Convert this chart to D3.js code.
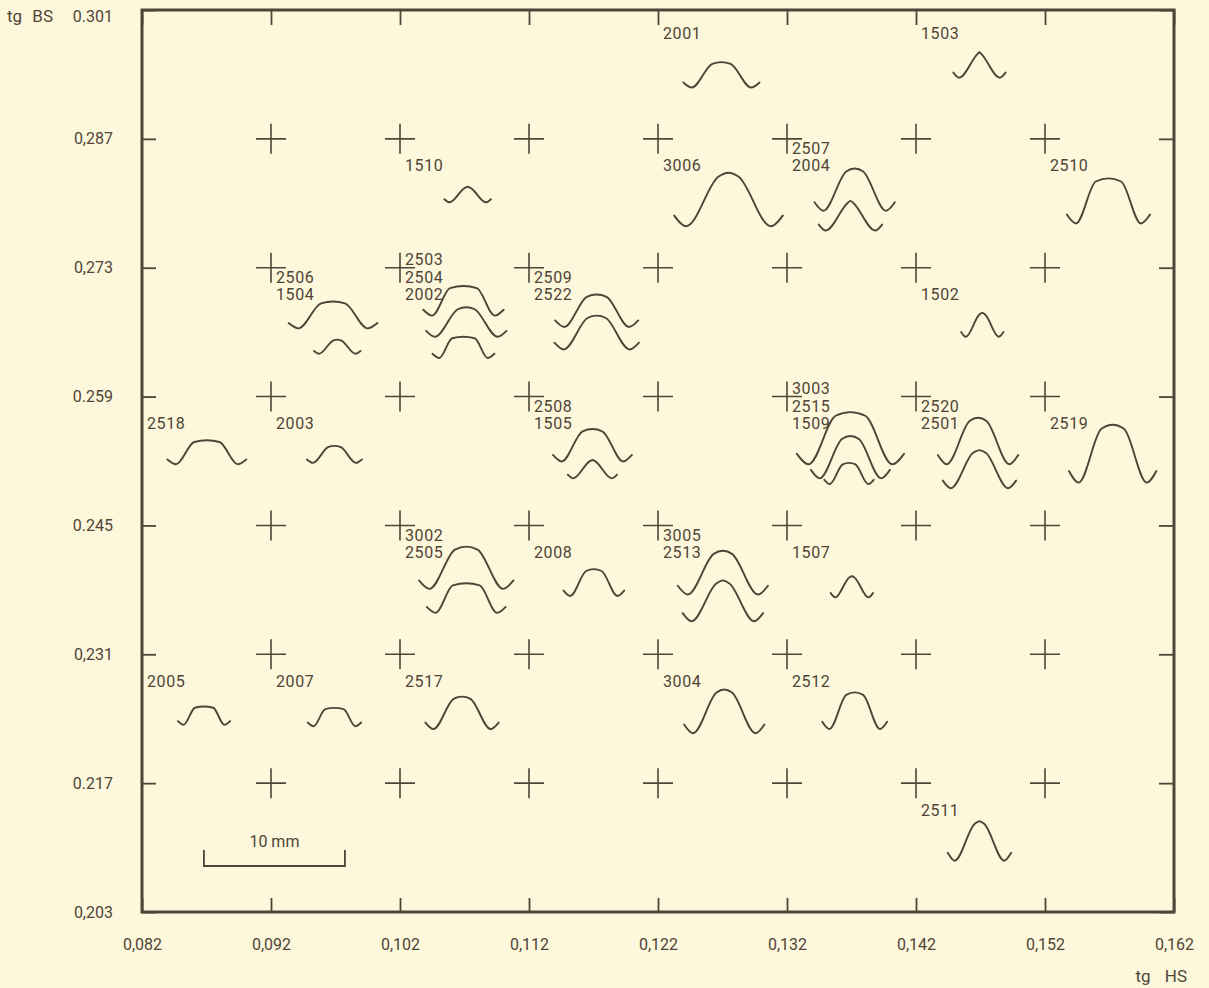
<!DOCTYPE html>
<html>
<head>
<meta charset="utf-8">
<script src="https://cdn.jsdelivr.net/npm/d3@7/dist/d3.min.js"></script>
<style>
  html, body { margin: 0; padding: 0; background: #fdf8dc; }
  svg { display: block; }
  text { font-family: Roboto, "DejaVu Sans", sans-serif; fill: #4f4437; }
</style>
</head>
<body>
<svg width="1209" height="988"></svg>
<script>
// specimens, listed in label order at each grid point
const specimens = ["2001", "1503", "1510", "3006", "2507", "2004", "2510",
  "2506", "1504", "2503", "2504", "2002", "2509", "2522", "1502",
  "2518", "2003", "2508", "1505", "3003", "2515", "1509", "2520", "2501", "2519",
  "3002", "2505", "2008", "3005", "2513", "1507",
  "2005", "2007", "2517", "3004", "2512", "2511"];
const tgHS = [0.122, 0.142, 0.102, 0.122, 0.132, 0.132, 0.152,
  0.092, 0.092, 0.102, 0.102, 0.102, 0.112, 0.112, 0.142,
  0.082, 0.092, 0.112, 0.112, 0.132, 0.132, 0.132, 0.142, 0.142, 0.152,
  0.102, 0.102, 0.112, 0.122, 0.122, 0.132,
  0.082, 0.092, 0.102, 0.122, 0.132, 0.142];
const tgBS = [0.301, 0.301, 0.287, 0.287, 0.287, 0.287, 0.287,
  0.273, 0.273, 0.273, 0.273, 0.273, 0.273, 0.273, 0.273,
  0.259, 0.259, 0.259, 0.259, 0.259, 0.259, 0.259, 0.259, 0.259, 0.259,
  0.245, 0.245, 0.245, 0.245, 0.245, 0.245,
  0.231, 0.231, 0.231, 0.231, 0.231, 0.217];

// profile outlines, in mm of the drawing (see the 10 mm bar)
const profWidth = [5.4, 3.7, 3.3, 7.7, 5.7, 4.5, 5.9,
  6.3, 3.3, 5.7, 5.7, 4.4, 5.9, 6.0, 3.0,
  5.6, 3.9, 5.6, 3.5, 7.6, 5.6, 3.5, 5.7, 5.2, 6.2,
  6.7, 5.6, 4.3, 6.4, 5.7, 3.0,
  3.7, 3.8, 5.2, 5.7, 4.6, 4.5];
const profHeight = [1.8, 1.8, 1.1, 3.8, 3.0, 2.1, 3.2,
  1.9, 1.0, 2.1, 2.1, 1.5, 2.3, 2.4, 1.7,
  1.7, 1.2, 2.3, 1.3, 3.7, 3.0, 1.5, 3.3, 2.7, 4.1,
  3.0, 2.1, 1.9, 3.1, 2.9, 1.5,
  1.3, 1.3, 2.3, 3.1, 2.6, 2.8];
const profTop = [1.3, 0.1, 0.4, 1.4, 1.2, 0.4, 1.8,
  1.7, 0.6, 1.9, 1.2, 1.6, 1.4, 1.3, 0.4,
  1.8, 0.9, 1.4, 0.4, 2.1, 1.2, 0.9, 1.2, 0.9, 1.6,
  1.6, 1.9, 1.1, 1.3, 0.9, 0.4,
  1.3, 1.3, 1.2, 1.1, 1.2, 0.7];
// where each outline sits, from its grid point (mm right, mm down)
const profDx = [4.5, 4.5, 4.8, 5.0, 4.8, 4.5, 4.5,
  4.4, 4.7, 4.5, 4.7, 4.5, 4.8, 4.8, 4.7,
  4.6, 4.5, 4.5, 4.5, 4.5, 4.5, 4.4, 4.4, 4.5, 4.8,
  4.7, 4.7, 4.6, 4.6, 4.6, 4.6,
  4.4, 4.5, 4.4, 4.7, 4.8, 4.5];
const profDy = [5.5, 4.8, 4.5, 6.2, 5.1, 6.5, 6.0,
  4.3, 6.1, 3.4, 4.9, 6.4, 4.2, 5.8, 4.9,
  4.8, 4.7, 4.6, 5.8, 4.8, 5.8, 6.2, 4.8, 6.5, 6.1,
  4.5, 6.2, 5.0, 4.9, 6.8, 5.1,
  5.0, 5.1, 5.3, 5.6, 5.3, 5.5];

const xTicks = [0.082, 0.092, 0.102, 0.112, 0.122, 0.132, 0.142, 0.152, 0.162];
const xTickLabels = ["0,082", "0,092", "0,102", "0,112", "0,122", "0,132", "0,142", "0,152", "0,162"];
const yTicks = [0.301, 0.287, 0.273, 0.259, 0.245, 0.231, 0.217, 0.203];
const yTickLabels = ["0.301", "0,287", "0,273", "0.259", "0.245", "0,231", "0.217", "0,203"];

// 10 mm bar, in chart units
const barStart = 0.0868, barLen = 0.01093, barBS = 0.208;

const ink = "#4f4437";
const svg = d3.select("svg");

const x = d3.scaleLinear([0.082, 0.162], [142, 1174]);
const y = d3.scaleLinear([0.203, 0.301], [912, 10]);
const mm = d3.scaleLinear([0, 10], [0, x(barStart + barLen) - x(barStart)]);

function styleAxis(g) {
  g.select(".domain").remove();
  g.attr("font-size", 16).attr("font-family", null);
  g.selectAll(".tick line").attr("stroke", ink).attr("stroke-width", 1.8);
  g.selectAll(".tick text").attr("fill", ink);
}

svg.append("g").attr("transform", `translate(0,${y(0.203)})`)
  .call(d3.axisBottom(x).tickValues(xTicks).tickSize(-14).tickPadding(27)
    .tickFormat((d, i) => xTickLabels[i]))
  .call(styleAxis);
svg.append("g").attr("transform", `translate(${x(0.082)},0)`)
  .call(d3.axisLeft(y).tickValues(yTicks).tickSize(-14).tickPadding(29)
    .tickFormat((d, i) => yTickLabels[i]))
  .call(styleAxis);
// top label sits just under the page edge
svg.select("g:nth-of-type(2) .tick text").attr("dy", "0.7em");
svg.append("g").attr("transform", `translate(0,${y(0.301)})`)
  .call(d3.axisTop(x).tickValues(xTicks).tickSize(-15).tickFormat(() => ""))
  .call(styleAxis);
svg.append("g").attr("transform", `translate(${x(0.162)},0)`)
  .call(d3.axisRight(y).tickValues(yTicks).tickSize(-15).tickFormat(() => ""))
  .call(styleAxis);

// frame
svg.append("rect")
  .attr("x", x(0.082)).attr("y", y(0.301))
  .attr("width", x(0.162) - x(0.082)).attr("height", y(0.203) - y(0.301))
  .attr("fill", "none").attr("stroke", ink).attr("stroke-width", 3);

// axis titles
const t1 = svg.append("text").attr("x", 7).attr("y", y(0.301) + 6).attr("dy", "0.35em")
  .attr("font-size", 17).text("tg");
t1.append("tspan").attr("dx", 6).text(" BS");
const t2 = svg.append("text").attr("x", 1187).attr("y", 976).attr("dy", "0.35em")
  .attr("font-size", 17).attr("text-anchor", "end").text("tg");
t2.append("tspan").attr("dx", 10).text(" HS");

// crosses at the inner grid points
const arm = 15;
svg.append("g").selectAll("path")
  .data(d3.cross(xTicks.slice(1, -1), yTicks.slice(1, -1)))
  .join("path")
  .attr("d", ([h, b]) => `M${x(h) - arm},${y(b)}H${x(h) + arm}M${x(h)},${y(b) - arm}V${y(b) + arm}`)
  .attr("stroke", ink).attr("stroke-width", 1.6).attr("fill", "none");

// profile outlines
const line = d3.line().curve(d3.curveMonotoneX);
function profile(i) {
  const cx = x(tgHS[i]) + mm(profDx[i]);
  const yb = y(tgBS[i]) + mm(profDy[i]);
  const w = mm(profWidth[i]) / 2;
  const h = mm(profHeight[i]);
  const p = Math.max(mm(profTop[i]) / 2, 2);
  const f = w * 0.22, c = h * 0.2;
  return line([
    [cx - w, yb - c], [cx - w + f, yb], [cx - p, yb - h * 0.93], [cx, yb - h],
    [cx + p, yb - h * 0.93], [cx + w - f, yb], [cx + w, yb - c]
  ]);
}
svg.append("g").selectAll("path")
  .data(d3.range(specimens.length))
  .join("path")
  .attr("d", profile)
  .attr("fill", "none").attr("stroke", ink).attr("stroke-width", 1.9)
  .attr("stroke-linecap", "round");

// specimen numbers, stacked at their grid point
const groups = d3.groups(d3.range(specimens.length), i => tgHS[i] + "|" + tgBS[i]);
const lab = svg.append("g").attr("font-size", 16).attr("letter-spacing", 0.6);
groups.forEach(([, idx]) => {
  idx.forEach((i, k) => {
    lab.append("text")
      .attr("x", x(tgHS[i]) + 5)
      .attr("y", y(tgBS[i]) + (tgBS[i] === 0.301 ? 23 : 27) - 17.5 * (idx.length - 1 - k))
      .attr("dy", "0.35em")
      .text(specimens[i]);
  });
});

// 10 mm scale bar
const bx0 = x(barStart), bx1 = x(barStart + barLen), by = y(barBS);
svg.append("path")
  .attr("d", `M${bx0},${by - 16}V${by}H${bx1}V${by - 16}`)
  .attr("fill", "none").attr("stroke", ink).attr("stroke-width", 1.8);
svg.append("text").attr("x", (bx0 + bx1) / 2).attr("y", by - 25).attr("dy", "0.35em")
  .attr("text-anchor", "middle").attr("font-size", 16).text("10 mm");
</script>
</body>
</html>
